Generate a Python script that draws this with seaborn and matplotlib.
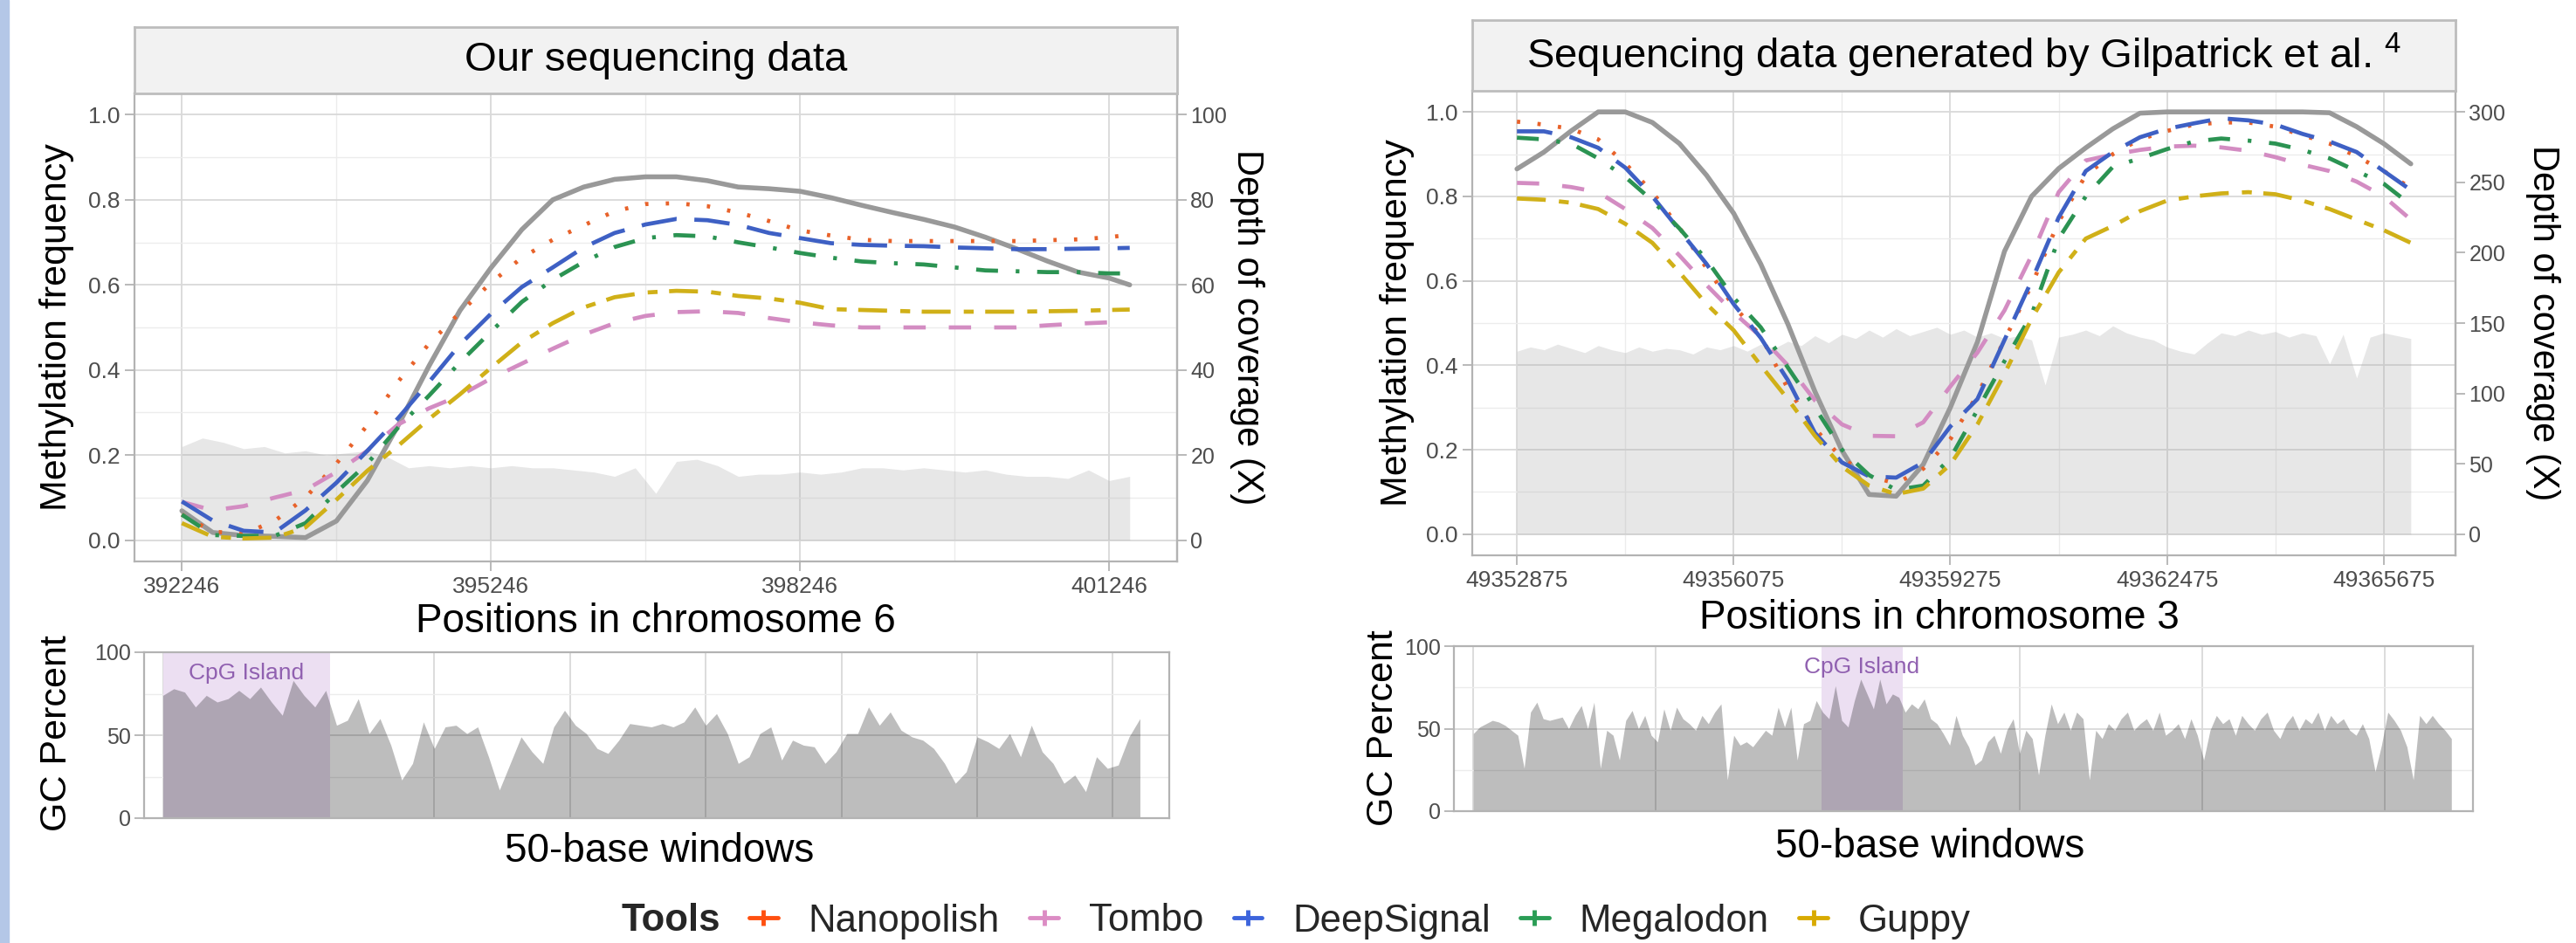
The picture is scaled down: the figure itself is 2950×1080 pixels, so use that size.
import numpy as np
import pandas as pd
import seaborn as sns
import matplotlib.pyplot as plt
from matplotlib.lines import Line2D
from matplotlib.patches import Rectangle

sns.set_theme(style='whitegrid')
plt.rcParams['font.family'] = ['Liberation Sans', 'DejaVu Sans']
plt.rcParams['mathtext.default'] = 'regular'

W, H = 2950, 1080

tools = ['Nanopolish', 'Tombo', 'DeepSignal', 'Megalodon', 'Guppy']
palette = {'Nanopolish': '#e8622a', 'Tombo': '#d38cc2', 'DeepSignal': '#3e60c4',
           'Megalodon': '#2b9352', 'Guppy': '#d0b018'}
legend_colors = ['#ff5010', '#dc8cc4', '#3c64dc', '#2a9d55', '#d8aa00']
dashes = {'Nanopolish': (0.8, 4.2), 'Tombo': (5.4, 5.6), 'DeepSignal': (8.6, 4.3),
          'Megalodon': (5.3, 4.3, 0.9, 4.3), 'Guppy': (7.0, 3.2, 2.4, 2.8)}

# ---- chromosome 6 (our data) ----
pos6 = list(range(392246, 401247, 300)) + [401446]
gray6 = [0.069, 0.018, 0.011, 0.009, 0.006, 0.045, 0.14, 0.27, 0.41, 0.54, 0.64, 0.73, 0.80, 0.83, 0.848, 0.854,
         0.854, 0.845, 0.83, 0.826, 0.82, 0.805, 0.787, 0.77, 0.754, 0.736, 0.712, 0.685, 0.656, 0.63, 0.616, 0.60]
nano6 = [0.06, 0.02, 0.015, 0.045, 0.10, 0.18, 0.27, 0.373, 0.462, 0.535, 0.605, 0.664, 0.706, 0.74, 0.773, 0.79,
         0.792, 0.785, 0.77, 0.75, 0.728, 0.716, 0.706, 0.703, 0.703, 0.703, 0.703, 0.703, 0.705, 0.707, 0.712, 0.718]
tombo6 = [0.09, 0.07, 0.08, 0.10, 0.118, 0.16, 0.21, 0.272, 0.31, 0.34, 0.38, 0.415, 0.45, 0.483, 0.51, 0.527,
          0.536, 0.538, 0.534, 0.522, 0.512, 0.505, 0.50, 0.50, 0.50, 0.50, 0.50, 0.50, 0.505, 0.509, 0.512, 0.515]
deep6 = [0.091, 0.046, 0.022, 0.018, 0.07, 0.135, 0.21, 0.287, 0.372, 0.46, 0.532, 0.595, 0.641, 0.688, 0.722, 0.742,
         0.755, 0.752, 0.741, 0.722, 0.71, 0.698, 0.694, 0.692, 0.691, 0.688, 0.686, 0.684, 0.684, 0.685, 0.686, 0.687]
mega6 = [0.06, 0.012, 0.01, 0.01, 0.04, 0.113, 0.18, 0.265, 0.34, 0.418, 0.49, 0.56, 0.612, 0.654, 0.689, 0.71,
         0.717, 0.714, 0.70, 0.688, 0.675, 0.664, 0.655, 0.651, 0.648, 0.641, 0.634, 0.632, 0.63, 0.63, 0.627, 0.627]
guppy6 = [0.04, 0.008, 0.004, 0.006, 0.03, 0.095, 0.163, 0.222, 0.285, 0.343, 0.405, 0.465, 0.51, 0.547, 0.571, 0.582,
          0.586, 0.584, 0.574, 0.568, 0.558, 0.543, 0.541, 0.539, 0.537, 0.537, 0.537, 0.537, 0.538, 0.539, 0.541, 0.542]
covpos6 = list(range(392246, 401447, 200))
cov6 = [22, 24, 23, 21.5, 22, 20.5, 21, 20, 20.5, 21, 19.5, 17, 17.5, 17, 17.5, 17, 17.5, 17, 17, 16.5, 16, 15,
        17, 11, 18.5, 19, 17.5, 15, 15.5, 15.5, 16, 15.5, 16, 17, 17, 16.5, 17, 16.5, 16, 16.5, 15.5, 15, 15, 14.5,
        16.5, 14, 15]
gc6 = [74, 78, 76, 67, 74, 70, 72, 77, 72, 79, 70, 62, 83, 74, 67, 77,
       56, 59, 72, 51, 60, 44, 23, 33, 58, 42, 55, 56, 51, 55, 37, 17, 33, 49, 40, 33, 55, 65, 56, 51, 42, 39, 47,
       57, 56, 55, 57, 55, 58, 67, 56, 63, 51, 33, 37, 51, 55, 35, 47, 44, 43, 33, 40, 51, 51, 67, 56, 64, 53, 49,
       47, 42, 33, 21, 28, 49, 46, 42, 51, 37, 56, 40, 33, 21, 26, 16, 37, 30, 32, 49, 60]
cpg6 = (0, 15.4)

# ---- chromosome 3 (Gilpatrick et al.) ----
pos3 = list(range(49352875, 49366076, 400))
gray3 = [0.865, 0.905, 0.955, 1.0, 1.0, 0.975, 0.925, 0.85, 0.76, 0.64, 0.498, 0.338, 0.198, 0.094, 0.09, 0.165, 0.30,
         0.455, 0.67, 0.80, 0.866, 0.915, 0.96, 0.997, 1.0, 1.0, 1.0, 1.0, 1.0, 1.0, 0.998, 0.965, 0.925, 0.877]
nano3 = [0.977, 0.97, 0.96, 0.935, 0.878, 0.81, 0.726, 0.63, 0.54, 0.47, 0.345, 0.25, 0.18, 0.138, 0.12, 0.155, 0.225,
         0.33, 0.46, 0.59, 0.74, 0.85, 0.90, 0.935, 0.955, 0.97, 0.975, 0.975, 0.965, 0.945, 0.925, 0.895, 0.86, 0.82]
tombo3 = [0.832, 0.83, 0.822, 0.81, 0.77, 0.725, 0.66, 0.59, 0.525, 0.468, 0.40, 0.317, 0.26, 0.233, 0.232, 0.265, 0.35,
          0.43, 0.53, 0.66, 0.81, 0.885, 0.899, 0.91, 0.918, 0.92, 0.916, 0.908, 0.893, 0.875, 0.86, 0.835, 0.80, 0.745]
deep3 = [0.954, 0.954, 0.94, 0.915, 0.868, 0.80, 0.72, 0.64, 0.545, 0.465, 0.365, 0.24, 0.17, 0.137, 0.134, 0.17, 0.255,
         0.32, 0.46, 0.60, 0.75, 0.86, 0.905, 0.94, 0.96, 0.973, 0.985, 0.98, 0.97, 0.948, 0.93, 0.905, 0.86, 0.815]
mega3 = [0.939, 0.935, 0.925, 0.89, 0.846, 0.79, 0.724, 0.65, 0.56, 0.49, 0.395, 0.30, 0.20, 0.14, 0.105, 0.115, 0.18,
         0.294, 0.41, 0.52, 0.70, 0.80, 0.87, 0.89, 0.912, 0.93, 0.937, 0.932, 0.925, 0.91, 0.89, 0.86, 0.83, 0.78]
guppy3 = [0.795, 0.792, 0.785, 0.77, 0.735, 0.69, 0.62, 0.545, 0.483, 0.40, 0.32, 0.233, 0.16, 0.115, 0.095, 0.108, 0.165,
          0.26, 0.38, 0.51, 0.62, 0.70, 0.73, 0.765, 0.79, 0.80, 0.807, 0.81, 0.805, 0.79, 0.77, 0.745, 0.72, 0.69]
covpos3 = list(range(49352875, 49366076, 200))
cov3 = [130, 133, 131, 135, 132, 129, 134, 131, 129, 133, 130, 132, 131, 128, 133, 131, 134, 130, 135, 132,
        137, 134, 141, 136, 142, 139, 145, 140, 146, 141, 144, 147, 142, 145, 140, 143, 139, 141, 138, 106,
        140, 142, 145, 141, 148, 143, 140, 138, 133, 130, 128, 136, 143, 141, 145, 142, 144, 140, 143, 141,
        121, 142, 111, 140, 143, 141, 139]
gc3 = [47, 51, 53, 55, 54, 52, 49, 46, 26, 60, 66, 56, 55, 56, 57, 50, 58, 64, 50, 66,
       26, 49, 46, 31, 55, 61, 50, 58, 46, 42, 62, 49, 63, 56, 53, 49, 58, 53, 60, 65,
       19, 46, 40, 42, 39, 44, 49, 46, 63, 51, 63, 31, 53, 55, 67, 60, 56, 76, 55, 51,
       67, 80, 71, 62, 80, 65, 71, 69, 60, 65, 62, 68, 56, 53, 47, 40, 58, 46, 39, 28,
       31, 42, 46, 35, 49, 56, 35, 49, 44, 22, 46, 65, 53, 60, 49, 60, 56, 19, 49, 44,
       53, 49, 56, 60, 49, 53, 56, 49, 60, 46, 49, 53, 44, 56, 46, 31, 49, 58, 53, 56,
       46, 58, 53, 49, 56, 60, 49, 44, 53, 58, 49, 56, 53, 60, 49, 58, 53, 56, 49, 46,
       53, 44, 24, 40, 60, 55, 49, 39, 19, 58, 53, 58, 53, 49, 44]
cpg3 = (54.8, 67.6)

GRID_MAJ = '#d9d9d9'
GRID_MIN = '#ececec'
BORDER = '#b3b3b3'
TICKCOL = '#4d4d4d'


def frac(x0, y0, x1, y1):
    return [x0 / W, 1 - y1 / H, (x1 - x0) / W, (y1 - y0) / H]


def style_box(ax):
    for s in ax.spines.values():
        s.set_visible(True)
        s.set_color(BORDER)
        s.set_linewidth(1.6)


def main_panel(rect, pos, series, gray, covpos, cov, dmax, xticks, dticks):
    ax = fig.add_axes(rect)
    ax.set_facecolor('white')
    ax.fill_between(covpos, np.array(cov) / dmax, 0, color='#b0b0b0', alpha=0.3, lw=0)
    sns.lineplot(x=pos, y=gray, color='#999999', linewidth=4.0, ax=ax)
    df = pd.DataFrame({'pos': pos * len(tools),
                       'freq': sum(series, []),
                       'tool': sum([[t] * len(pos) for t in tools], [])})
    sns.lineplot(data=df, x='pos', y='freq', hue='tool', style='tool', hue_order=tools, style_order=tools,
                 palette=palette, dashes=dashes, linewidth=3.4, legend=False, ax=ax, estimator=None)
    span = pos[-1] - pos[0]
    step = xticks[1] - xticks[0]
    ax.set_xticks(xticks)
    ax.set_xticklabels([str(v) for v in xticks])
    ax.set_xticks([v - step / 2 for v in xticks] + [xticks[-1] + step / 2], minor=True)
    ax.set_yticks([0, 0.2, 0.4, 0.6, 0.8, 1.0])
    ax.set_yticklabels(['0.0', '0.2', '0.4', '0.6', '0.8', '1.0'])
    ax.set_yticks([0.1, 0.3, 0.5, 0.7, 0.9], minor=True)
    ax.set_xlim(pos[0] - 0.05 * span, pos[-1] + 0.05 * span)
    ax.set_ylim(-0.05, 1.05)
    ax.set_axisbelow(True)
    ax.grid(which='major', color=GRID_MAJ, lw=1.3)
    ax.grid(which='minor', color=GRID_MIN, lw=1.0)
    ax.set_xlabel('')
    ax.set_ylabel('')
    ax.tick_params(which='major', length=8, width=1.3, color=BORDER, labelsize=19, labelcolor=TICKCOL,
                   bottom=True, left=True, pad=4)
    ax.tick_params(which='minor', length=0)
    style_box(ax)
    sec = ax.secondary_yaxis('right', functions=(lambda v: v * dmax, lambda d: d / dmax))
    sec.set_yticks(dticks)
    sec.tick_params(length=8, width=1.3, color=BORDER, labelsize=18, labelcolor=TICKCOL, right=True, pad=3)
    for s in sec.spines.values():
        s.set_color(BORDER)
        s.set_linewidth(1.6)
    return ax


def strip(rect, text):
    sax = fig.add_axes(rect)
    sax.set_facecolor('#f2f2f2')
    sax.set_xticks([])
    sax.set_yticks([])
    sax.grid(False)
    for s in sax.spines.values():
        s.set_visible(True)
        s.set_color('#bdbdbd')
        s.set_linewidth(2)
    sax.text(0.5, 0.5, text, ha='center', va='center', fontsize=34, color='black', transform=sax.transAxes)


def gc_panel(rect, gc, cpg, xlim, gstep):
    gax = fig.add_axes(rect)
    gax.set_facecolor('white')
    windows = list(range(len(gc)))
    gax.axvspan(cpg[0], cpg[1], color='#ecdff2', lw=0, zorder=1)
    gax.fill_between(windows, gc, 0, color='black', alpha=0.26, lw=0, zorder=2)
    gax.text((cpg[0] + cpg[1]) / 2, 87.5, 'CpG Island', ha='center', va='center', fontsize=19,
             color='#9060b0', zorder=3)
    gax.set_xlim(*xlim)
    gax.set_ylim(0, 100)
    gax.set_xticks(list(np.arange(0, xlim[1], gstep)))
    gax.set_xticklabels([])
    gax.set_yticks([0, 50, 100])
    gax.set_yticklabels(['0', '50', '100'])
    gax.set_yticks([25, 75], minor=True)
    gax.set_axisbelow(True)
    gax.grid(which='major', color=GRID_MAJ, lw=1.3)
    gax.grid(which='minor', axis='y', color=GRID_MIN, lw=1.0)
    gax.tick_params(axis='y', which='major', length=8, width=1.3, color=BORDER, labelsize=18,
                    labelcolor=TICKCOL, left=True, pad=3)
    gax.tick_params(axis='x', which='both', length=0)
    gax.tick_params(which='minor', length=0)
    style_box(gax)
    return gax


fig = plt.figure(figsize=(W / 100, H / 100), dpi=100)
fig.patch.set_facecolor('white')
fig.patches.append(Rectangle((0, 0), 10 / W, 1, transform=fig.transFigure, color='#b4c7e7', zorder=0))

main_panel(frac(154, 107, 1348, 643), pos6, [nano6, tombo6, deep6, mega6, guppy6], gray6, covpos6, cov6, 100,
           [392246, 395246, 398246, 401246], [0, 20, 40, 60, 80, 100])
strip(frac(154, 31, 1348, 107), 'Our sequencing data')
main_panel(frac(1686, 104, 2812, 636), pos3, [nano3, tombo3, deep3, mega3, guppy3], gray3, covpos3, cov3, 300,
           [49352875, 49356075, 49359275, 49362475, 49365675], [0, 50, 100, 150, 200, 250, 300])
strip(frac(1686, 23, 2812, 104), 'Sequencing data generated by Gilpatrick et al. $^{4}$')

gc_panel(frac(165, 747, 1339, 937), gc6, cpg6, (-1.73, 92.7), 12.5)
gc_panel(frac(1665, 740, 2832, 929), gc3, cpg3, (-3.06, 157.4), 28.7)

lab = dict(ha='center', va='center', color='black')
fig.text(65 / W, 1 - 375 / H, 'Methylation frequency', rotation=90, fontsize=31, **lab)
fig.text(1428 / W, 1 - 375 / H, 'Depth of coverage (X)', rotation=270, fontsize=30, **lab)
fig.text(751 / W, 1 - 712 / H, 'Positions in chromosome 6', fontsize=33, **lab)
fig.text(65 / W, 1 - 840 / H, 'GC Percent', rotation=90, fontsize=31, **lab)
fig.text(755 / W, 1 - 975 / H, '50-base windows', fontsize=33, **lab)

fig.text(1600 / W, 1 - 370 / H, 'Methylation frequency', rotation=90, fontsize=31, **lab)
fig.text(2912 / W, 1 - 370 / H, 'Depth of coverage (X)', rotation=270, fontsize=30, **lab)
fig.text(2221 / W, 1 - 708 / H, 'Positions in chromosome 3', fontsize=33, **lab)
fig.text(1584 / W, 1 - 834 / H, 'GC Percent', rotation=90, fontsize=31, **lab)
fig.text(2210 / W, 1 - 970 / H, '50-base windows', fontsize=33, **lab)

fig.text(711 / W, 1 - 1055 / H, 'Tools', fontsize=31.5, fontweight='bold', ha='left', va='center')
handles = [Line2D([0], [0], color=c, lw=3.5, marker='|', markersize=13, markeredgewidth=3.5) for c in legend_colors]
fig.legend(handles, tools, loc='center left', bbox_to_anchor=(858 / W, 1 - 1055 / H), ncol=5, frameon=False,
           fontsize=31.5, handlelength=0.75, handletextpad=0.8, columnspacing=0.78, borderpad=0, borderaxespad=0)

fig.savefig('out.png', dpi=100, facecolor='white')
